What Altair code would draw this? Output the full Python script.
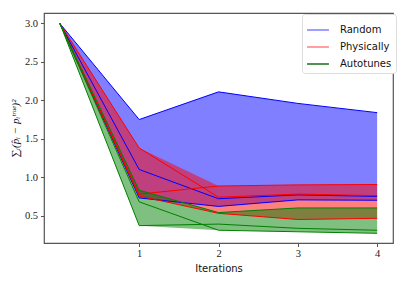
import altair as alt
import pandas as pd

iterations = [0, 1, 2, 3, 4]
methods = ["Random", "Physically", "Autotunes"]
line_colors = ["#0000ff", "#ff0000", "#008000"]
legend_colors = ["#7f7fff", "#ff7f7f", "#1b6e1b"]

random_runs = [
    [3.0, 1.75, 2.11, 1.96, 1.84],
    [3.0, 1.10, 0.72, 0.77, 0.75],
    [3.0, 0.73, 0.62, 0.705, 0.70],
]
physically_runs = [
    [3.0, 1.38, 0.74, 0.78, 0.76],
    [3.0, 0.78, 0.885, 0.90, 0.905],
    [3.0, 0.755, 0.53, 0.45, 0.465],
]
autotunes_runs = [
    [3.0, 0.83, 0.54, 0.60, 0.60],
    [3.0, 0.68, 0.31, 0.29, 0.27],
    [3.0, 0.37, 0.39, 0.335, 0.31],
]

all_runs = {"Random": random_runs, "Physically": physically_runs, "Autotunes": autotunes_runs}

rows = []
band_rows = []
for m in methods:
    runs = all_runs[m]
    for r, vals in enumerate(runs):
        for it, v in zip(iterations, vals):
            rows.append({"method": m, "run": f"{m}-{r}", "it": it, "err": v})
    for i, it in enumerate(iterations):
        col = [run[i] for run in runs]
        band_rows.append({"method": m, "it": it, "lo": min(col), "hi": max(col)})

lines_df = pd.DataFrame(rows)
band_df = pd.DataFrame(band_rows)

xscale = alt.Scale(domain=[-0.2, 4.2], nice=False, zero=False)
yscale = alt.Scale(domain=[0.144, 3.136], nice=False, zero=False)

xaxis = alt.Axis(title="Iterations", values=[1, 2, 3, 4], format="d", grid=False,
                 labelFont="Liberation Serif", labelFontSize=10.5, labelColor="#222",
                 titleFont="DejaVu Sans", titleFontSize=10, titleFontWeight="normal",
                 titleColor="#111", titlePadding=4, tickSize=3.5, tickColor="#555",
                 labelPadding=2, domain=False)
yaxis = alt.Axis(title="∑ᵢ(p̂ᵢ − pᵢᵗʳᵘᵉ)²", values=[0.5, 1.0, 1.5, 2.0, 2.5, 3.0], format=".1f",
                 grid=False, labelFont="Liberation Serif", labelFontSize=10.5, labelColor="#222",
                 titleFont="Liberation Serif", titleFontSize=11, titleFontWeight="normal",
                 titleFontStyle="italic", titleColor="#111", titleAngle=-90,
                 titleX=-29, titleY=115, titleAlign="center", titleBaseline="middle",
                 tickSize=3.5, tickColor="#555", labelPadding=3, domain=False)

band_order = alt.Order("order:Q")

bands = alt.Chart(band_df).transform_calculate(
    order="datum.method == 'Random' ? 0 : (datum.method == 'Physically' ? 1 : 2)"
).mark_area(opacity=0.5).encode(
    x=alt.X("it:Q", scale=xscale, axis=xaxis),
    y=alt.Y("hi:Q", scale=yscale, axis=yaxis),
    y2="lo:Q",
    color=alt.Color("method:N", scale=alt.Scale(domain=methods, range=line_colors), legend=None),
    order=band_order,
)

lines = alt.Chart(lines_df).mark_line(strokeWidth=1).encode(
    x=alt.X("it:Q", scale=xscale),
    y=alt.Y("err:Q", scale=yscale),
    detail="run:N",
    color=alt.Color("method:N", scale=alt.Scale(domain=methods, range=line_colors), legend=None),
)

legend_layer = alt.Chart(lines_df).mark_line(opacity=0).encode(
    x=alt.X("it:Q", scale=xscale),
    y=alt.Y("err:Q", scale=yscale),
    detail="run:N",
    stroke=alt.Stroke("method:N", scale=alt.Scale(domain=methods, range=legend_colors),
                      legend=alt.Legend(title=None, orient="none", legendX=258, legendY=1,
                                        symbolType="stroke", symbolSize=480, symbolStrokeWidth=1.5,
                                        symbolOpacity=1, labelFont="DejaVu Sans", labelFontSize=10,
                                        labelColor="#111", rowPadding=-8.5, padding=4,
                                        strokeColor="#dddddd", cornerRadius=3, labelOffset=10,
                                        fillColor="white")),
)

chart = alt.layer(bands, lines, legend_layer).resolve_scale(
    color="independent", stroke="independent"
).properties(
    width=349, height=230,
    autosize=alt.AutoSizeParams(type="none"),
    padding={"left": 36, "top": 5, "right": 6, "bottom": 34},
).configure_view(stroke="#555", strokeWidth=1.2)

chart.save("out.html", embed_options={"renderer": "svg", "actions": False})
